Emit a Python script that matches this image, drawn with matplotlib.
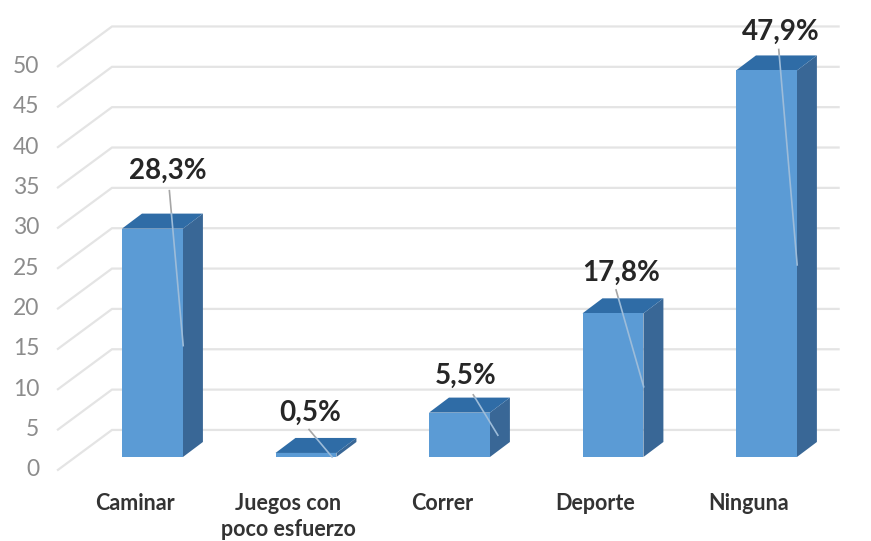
import matplotlib as mpl
mpl.use('Agg')
from matplotlib import pyplot as plt
from matplotlib.patches import Polygon

categories = ['Caminar', 'Juegos con\npoco esfuerzo', 'Correr', 'Deporte', 'Ninguna']
values = [28.3, 0.5, 5.5, 17.8, 47.9]
labels = ['28,3%', '0,5%', '5,5%', '17,8%', '47,9%']
yticks = [0, 5, 10, 15, 20, 25, 30, 35, 40, 45, 50]

# label centre (offset from bar centre, height) and where its leader line ends
label_pos = [(0.10, 35.4), (0.03, 5.5), (0.04, 10.1), (0.05, 22.8), (0.09, 52.7)]
leader_start = [(0.11, 33.0), (0.02, 3.4), (0.09, 7.7), (0.02, 20.7), (0.08, 50.5)]
leader_end = [(0.20, 13.8), (0.17, 0.0), (0.25, 2.7), (0.20, 8.7), (0.20, 23.8)]

# the fake 3d depth of a bar, in data units
bar_w = 0.397
depth_x = 0.130
depth_y = 1.86
wall_left = -0.616
wall_right = -0.264
wall_front = -1.6
wall_back = 3.35

front = '#5b9bd5'
top = '#2f6ca6'
side = '#396796'
grid = '#e4e4e4'

plt.rcParams['font.family'] = ['Lato', 'DejaVu Sans']

fig = plt.figure(figsize=(8.71, 5.41), dpi=100)
ax = fig.add_axes([0, 0, 1, 1])
ax.set_xlim(-0.9935, 4.681)
ax.set_ylim(-10.41, 56.63)
ax.axis('off')

for t in yticks:
    ax.plot([wall_left, wall_right, 4.47], [t + wall_front, t + wall_back, t + wall_back],
            color=grid, lw=1.6, zorder=1, solid_joinstyle='miter')
    ax.text(-0.738, t + wall_front, str(t), ha='right', va='center',
            fontsize=16.5, color='#8c8c8c')

for i, v in enumerate(values):
    l = i - bar_w / 2
    r = i + bar_w / 2
    ax.add_patch(Polygon([(r, 0), (r + depth_x, depth_y), (r + depth_x, v + depth_y), (r, v)],
                         facecolor=side, edgecolor='none', zorder=2))
    ax.add_patch(Polygon([(l, v), (l + depth_x, v + depth_y), (r + depth_x, v + depth_y), (r, v)],
                         facecolor=top, edgecolor='none', zorder=3))
    ax.bar(i, v, width=bar_w, color=front, zorder=3)

    # grey above the bar, pale where it runs over the bar
    sx, sy = leader_start[i]
    ex, ey = leader_end[i]
    top_y = v + depth_y
    mid_x = sx + (ex - sx) * (sy - top_y) / (sy - ey)
    ax.plot([i + sx, i + mid_x], [sy, top_y], color='#a6a6a6', lw=1.2, zorder=4)
    ax.plot([i + mid_x, i + ex], [top_y, ey], color='#9dbcd9', lw=1.2, zorder=4)

    lx, ly = label_pos[i]
    ax.text(i + lx, ly, labels[i], ha='center', va='center', fontsize=20,
            fontweight='bold', color='#262626', zorder=5)
    ax.text(i - 0.115, -4.5, categories[i], ha='center', va='top',
            fontsize=15.5, fontweight='bold', color='#333333', linespacing=1.3)

fig.savefig('out.png', dpi=100)
